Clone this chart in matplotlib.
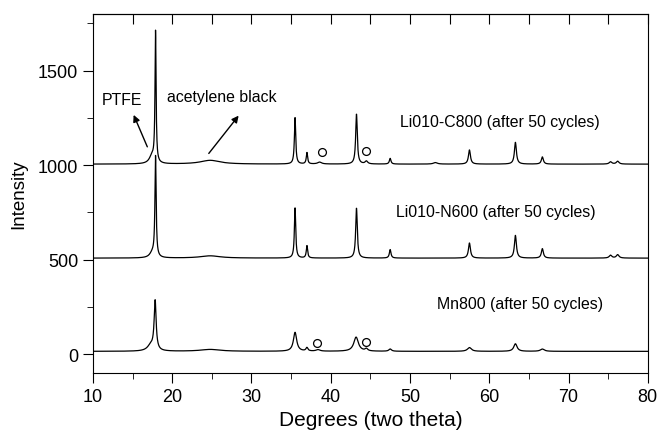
import numpy as np
import matplotlib
matplotlib.use("Agg")
import matplotlib.pyplot as plt
from matplotlib.ticker import MultipleLocator

plt.rcParams['font.family'] = ['Liberation Sans', 'DejaVu Sans']

# peak tables: position (deg), height, half width
c800_base = 1005
c800_pos = [17.45, 17.9, 24.8, 35.5, 37.0, 38.6, 43.25, 44.5, 47.5, 53.2, 57.5, 63.3, 66.7, 75.3, 76.2]
c800_h = [40, 690, 20, 245, 60, 10, 265, 15, 30, 8, 75, 115, 38, 12, 15]
c800_w = [0.4, 0.08, 1.5, 0.1, 0.1, 0.3, 0.12, 0.2, 0.12, 0.3, 0.15, 0.15, 0.15, 0.2, 0.2]

n600_base = 508
n600_pos = [17.5, 17.9, 24.8, 35.5, 37.0, 43.25, 47.5, 57.5, 63.3, 66.7, 75.3, 76.2]
n600_h = [25, 530, 12, 265, 65, 265, 45, 80, 120, 50, 15, 18]
n600_w = [0.4, 0.09, 1.5, 0.1, 0.1, 0.12, 0.12, 0.15, 0.15, 0.15, 0.2, 0.2]

mn800_base = 15
mn800_pos = [17.3, 17.85, 24.8, 35.5, 37.0, 38.4, 43.2, 44.5, 47.5, 57.5, 63.3, 66.7]
mn800_h = [30, 260, 10, 100, 18, 8, 75, 12, 12, 20, 40, 12]
mn800_w = [0.5, 0.15, 1.5, 0.25, 0.15, 0.3, 0.35, 0.2, 0.2, 0.3, 0.25, 0.3]

labels = ['Li010-C800 (after 50 cycles)', 'Li010-N600 (after 50 cycles)', 'Mn800 (after 50 cycles)']
label_x = [48.8, 48.2, 53.4]
label_y = [1231, 754, 270]

circle_x = [38.9, 44.4, 38.3, 44.4]
circle_y = [1067, 1072, 58, 63]

two_theta = np.arange(10, 80.001, 0.02)


def pattern(base, pos, h, w):
    y = np.full_like(two_theta, float(base))
    for p, hh, ww in zip(pos, h, w):
        y += hh / (1 + ((two_theta - p) / ww) ** 2)
    return y


fig, ax = plt.subplots(figsize=(6.59, 4.35), dpi=100)
fig.subplots_adjust(left=0.141, right=0.983, top=0.966, bottom=0.140)

for base, pos, h, w in [(c800_base, c800_pos, c800_h, c800_w),
                        (n600_base, n600_pos, n600_h, n600_w),
                        (mn800_base, mn800_pos, mn800_h, mn800_w)]:
    ax.plot(two_theta, pattern(base, pos, h, w), color='black', lw=0.9)

ax.scatter(circle_x, circle_y, s=32, facecolors='white', edgecolors='black', linewidths=0.9, zorder=3)

for t, x, y in zip(labels, label_x, label_y):
    ax.text(x, y, t, fontsize=11.4, va='center', ha='left')

ax.text(13.7, 1348, 'PTFE', fontsize=11.4, ha='center', va='center')
ax.annotate('', xy=(15.0, 1279), xytext=(17.0, 1083),
            arrowprops=dict(arrowstyle='-|>', color='black', lw=1.0, mutation_scale=10))
ax.text(19.3, 1363, 'acetylene black', fontsize=11.4, ha='left', va='center')
ax.annotate('', xy=(28.6, 1273), xytext=(24.4, 1050),
            arrowprops=dict(arrowstyle='-|>', color='black', lw=1.0, mutation_scale=10))

ax.set_xlim(10, 80)
ax.set_ylim(-100, 1800)
ax.xaxis.set_major_locator(MultipleLocator(10))
ax.xaxis.set_minor_locator(MultipleLocator(5))
ax.yaxis.set_major_locator(MultipleLocator(500))
ax.yaxis.set_minor_locator(MultipleLocator(250))
ax.tick_params(which='both', direction='out', top=False, right=False, labelsize=13)
ax.tick_params(which='major', length=7)
ax.tick_params(which='minor', length=4)

top = ax.secondary_xaxis('top')
top.xaxis.set_major_locator(MultipleLocator(5))
top.tick_params(direction='in', length=7, labeltop=False)

ax.set_xlabel('Degrees (two theta)', fontsize=15)
ax.set_ylabel('Intensity', fontsize=13.5, labelpad=8)

plt.savefig('out.png', dpi=100)
